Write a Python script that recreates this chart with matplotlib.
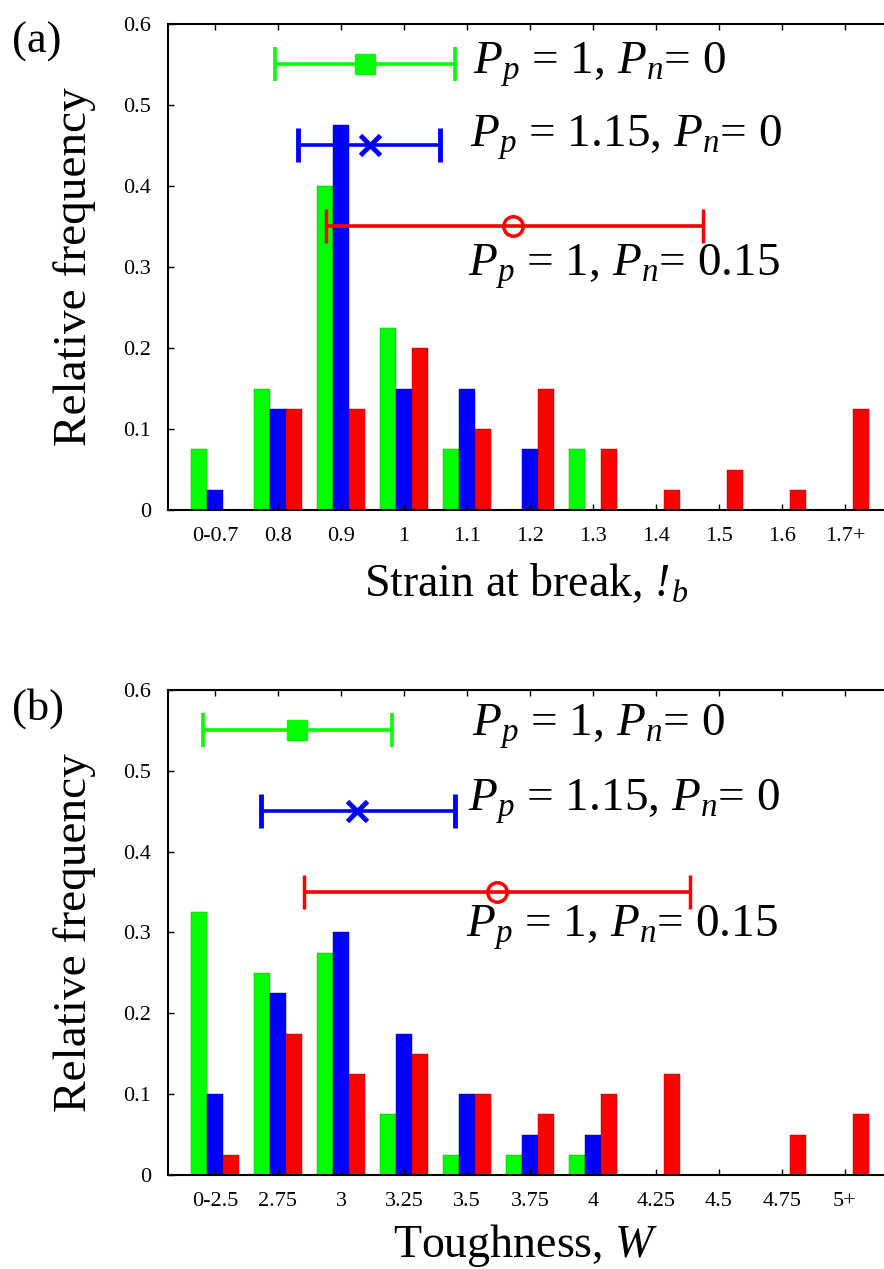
import matplotlib
matplotlib.use("Agg")
import matplotlib.pyplot as plt
import numpy as np

plt.rcParams['font.family'] = ['Liberation Serif', 'DejaVu Serif']
plt.rcParams['mathtext.fontset'] = 'custom'
plt.rcParams['mathtext.rm'] = 'Liberation Serif'
plt.rcParams['mathtext.it'] = 'Liberation Serif:italic'
plt.rcParams['mathtext.sf'] = 'Liberation Serif:italic'
plt.rcParams['mathtext.bf'] = 'Liberation Serif:bold'

# (a) strain at break
strain_bins = ["0-0.7", "0.8", "0.9", "1", "1.1", "1.2", "1.3", "1.4", "1.5", "1.6", "1.7+"]
strain_green = [0.075, 0.15, 0.4, 0.225, 0.075, 0, 0.075, 0, 0, 0, 0]
strain_blue = [0.025, 0.125, 0.475, 0.15, 0.15, 0.075, 0, 0, 0, 0, 0]
strain_red = [0, 0.125, 0.125, 0.2, 0.1, 0.15, 0.075, 0.025, 0.05, 0.025, 0.125]
# mean and range markers (in bin units): left, centre, right
strain_err_green = [0.95, 2.38, 3.81]
strain_err_blue = [1.32, 2.46, 3.57]
strain_err_red = [1.76, 4.73, 7.75]

# (b) toughness
tough_bins = ["0-2.5", "2.75", "3", "3.25", "3.5", "3.75", "4", "4.25", "4.5", "4.75", "5+"]
tough_green = [0.325, 0.25, 0.275, 0.075, 0.025, 0.025, 0.025, 0, 0, 0, 0]
tough_blue = [0.1, 0.225, 0.3, 0.175, 0.1, 0.05, 0.05, 0, 0, 0, 0]
tough_red = [0.025, 0.175, 0.125, 0.15, 0.1, 0.075, 0.1, 0.125, 0, 0.05, 0.075]
tough_err_green = [-0.19, 1.30, 2.81]
tough_err_blue = [0.73, 2.25, 3.81]
tough_err_red = [1.41, 4.48, 7.54]

labels = [r"$P_p$ = 1, $P_n$= 0",
          r"$P_p$ = 1.15, $P_n$= 0",
          r"$P_p$ = 1, $P_n$= 0.15"]


def panel(ax, bins, green, blue, red, errs, text_pos, xlabel, lpad):
	x = np.arange(len(bins))
	w = 0.25
	ax.bar(x - w, green, w, color="#00ff00", edgecolor="#00a000", linewidth=0.3)
	ax.bar(x, blue, w, color="#0000ff", edgecolor="#000080", linewidth=0.3)
	ax.bar(x + w, red, w, color="#ff0000", edgecolor="#a00000", linewidth=0.3)

	styles = [("#00ff00", "s", 0.55, dict(markersize=14)),
	          ("#0000ff", "x", 0.45, dict(markersize=14, markeredgewidth=3.5)),
	          ("#ff0000", "o", 0.35, dict(markersize=14, markerfacecolor="none", markeredgewidth=2.5))]
	for (c, m, y, kw), e in zip(styles, errs):
		ax.errorbar([e[1]], [y], xerr=[[e[1] - e[0]], [e[2] - e[1]]], fmt=m, color=c,
		            elinewidth=2.6, capsize=12, capthick=2.6, **kw)

	for (tx, ty), lab in zip(text_pos, labels):
		ax.text(tx, ty, lab, fontsize=34, va="center", ha="left")

	ax.set_xlim(-0.746, 10.62)
	ax.set_ylim(0, 0.6)
	ax.set_xticks(x)
	ax.set_xticklabels(bins)
	ax.set_yticks([0, 0.1, 0.2, 0.3, 0.4, 0.5, 0.6])
	ax.set_yticklabels(["0", "0.1", "0.2", "0.3", "0.4", "0.5", "0.6"])
	ax.tick_params(axis="x", direction="in", top=True, length=4, width=1, labelsize=16, pad=12)
	ax.tick_params(axis="y", direction="in", length=4, width=1, labelsize=16, pad=12)
	ax.spines["right"].set_visible(False)
	for s in ["left", "top", "bottom"]:
		ax.spines[s].set_linewidth(1.5)
	ax.set_ylabel("Relative frequency", fontsize=34, labelpad=20)
	ax.set_xlabel(xlabel, fontsize=33, labelpad=lpad)


fig = plt.figure(figsize=(8.84, 12.69), dpi=100)
ax1 = fig.add_axes([0.190, 0.5981, 0.810, 0.3830])
ax2 = fig.add_axes([0.190, 0.0741, 0.810, 0.3822])

panel(ax1, strain_bins, strain_green, strain_blue, strain_red,
      [strain_err_green, strain_err_blue, strain_err_red],
      [(4.10, 0.549), (4.05, 0.46), (4.02, 0.30)],
      r"Strain at break$\mathsf{,}$ $\mathsf{!}\!{}_b$", 12)
panel(ax2, tough_bins, tough_green, tough_blue, tough_red,
      [tough_err_green, tough_err_blue, tough_err_red],
      [(4.08, 0.554), (4.02, 0.462), (3.98, 0.306)],
      r"Toughness, $W$", 8)

fig.text(12 / 884, 1 - 22 / 1269, "(a)", fontsize=32, va="top", ha="left")
fig.text(12 / 884, 1 - 688 / 1269, "(b)", fontsize=32, va="top", ha="left")

fig.savefig("out.png", dpi=100)
